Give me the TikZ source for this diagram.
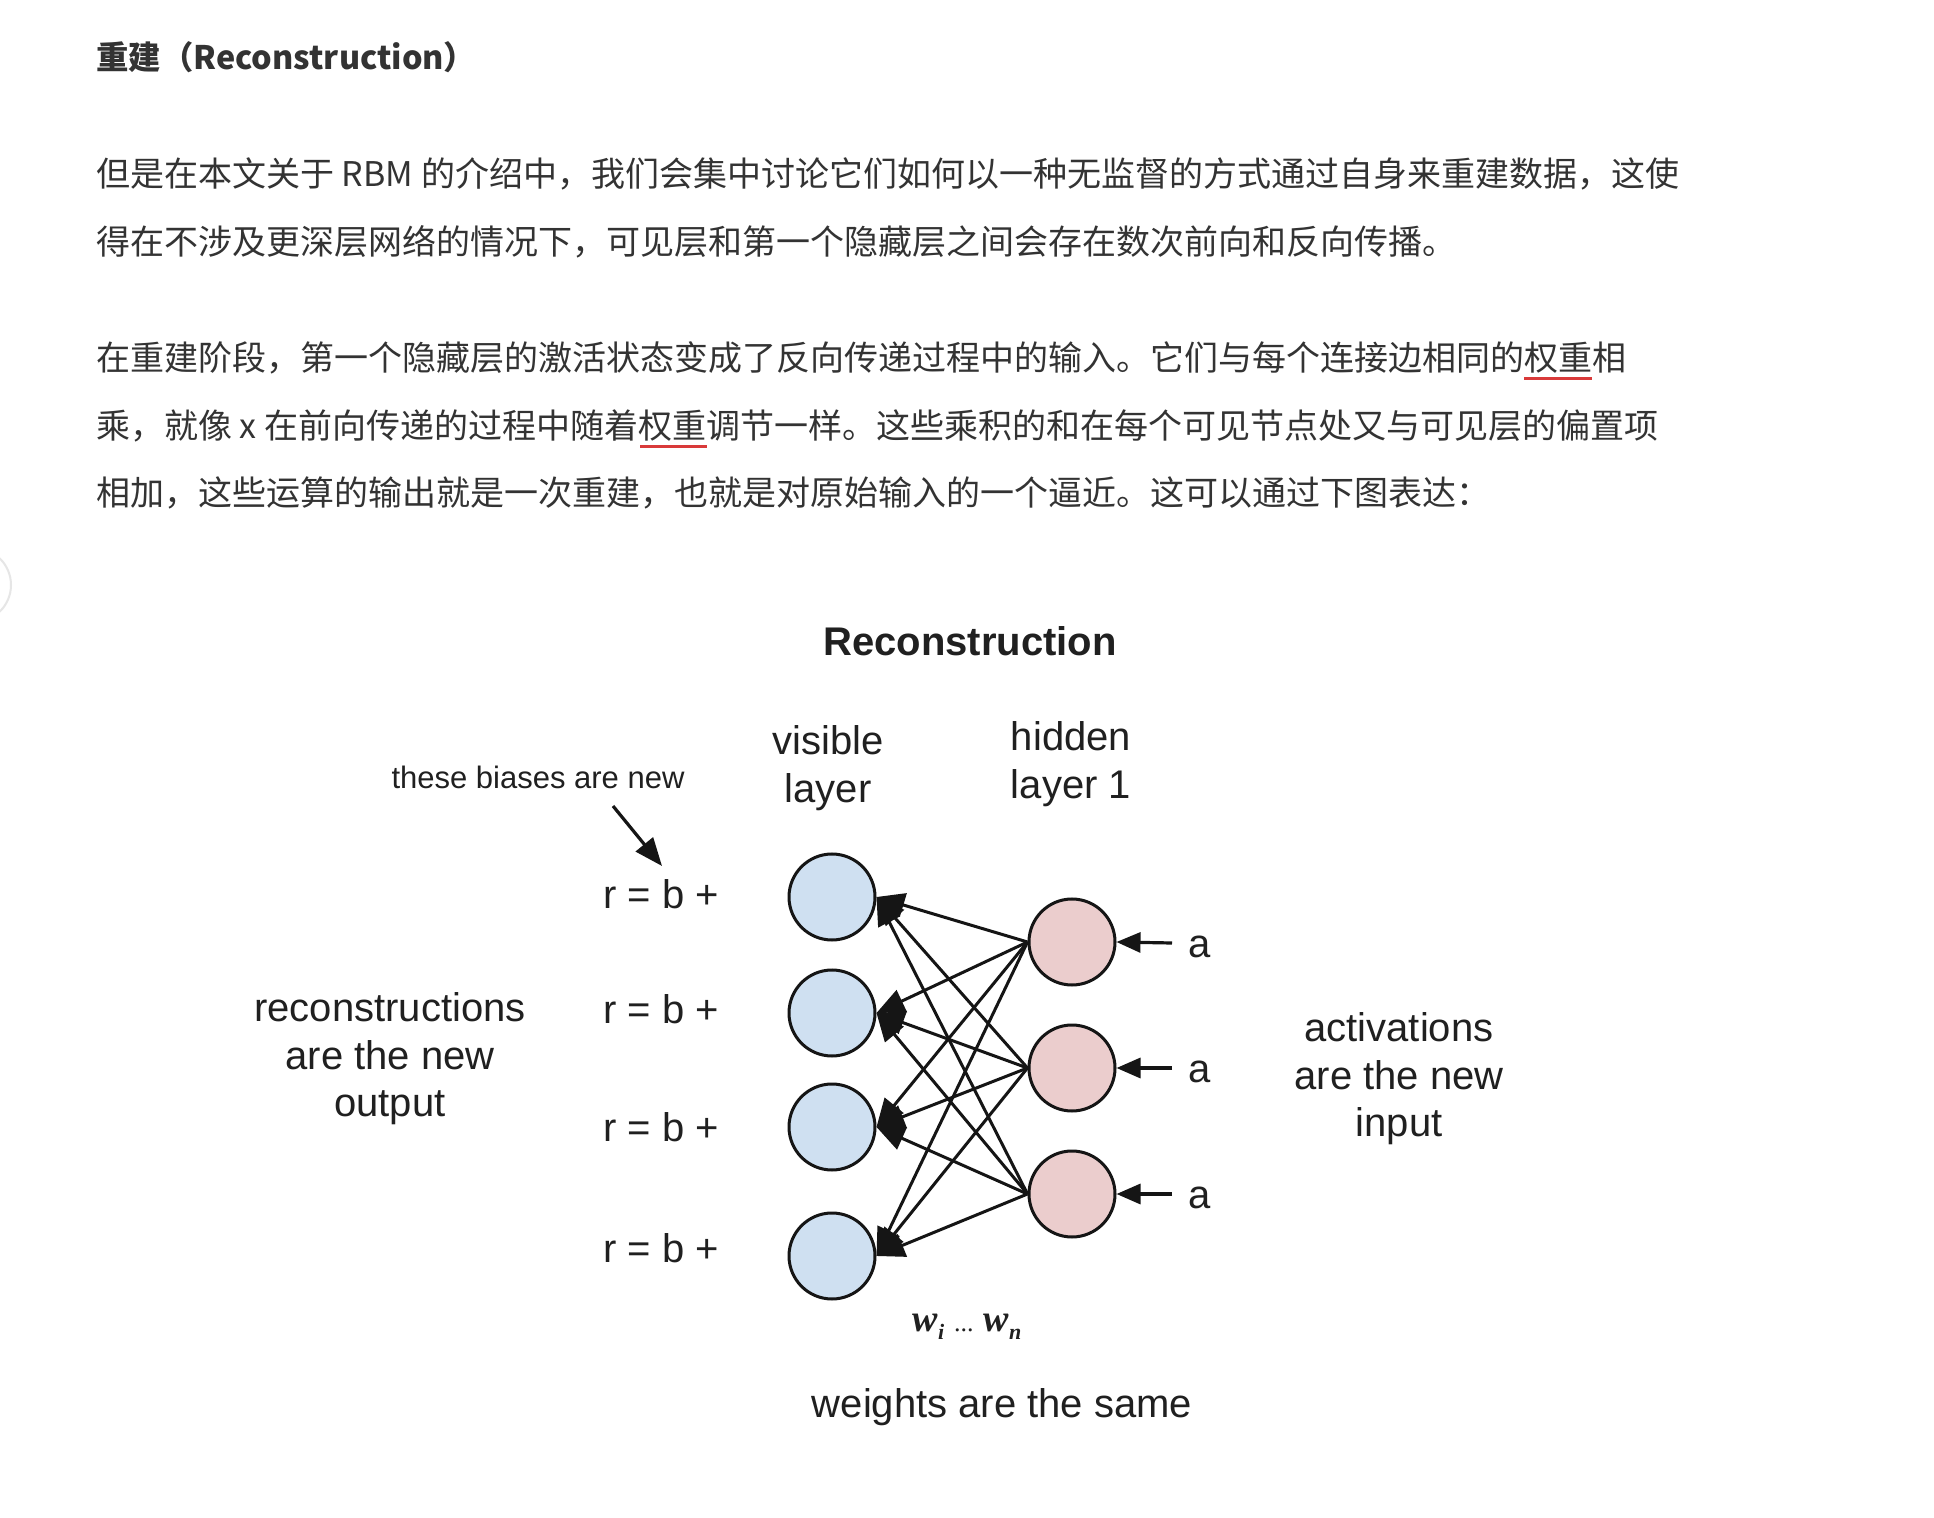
\documentclass[tikz,border=0pt]{standalone}
\usepackage{fontspec}
\setmainfont{Liberation Sans}
\newfontfamily\cjk{Noto Sans CJK SC}
\newfontfamily\wfont{Liberation Serif}
\usetikzlibrary{arrows.meta}
\definecolor{bodytext}{HTML}{333333}
\definecolor{diagtext}{HTML}{202020}
\definecolor{edgecol}{HTML}{151515}
\definecolor{visfill}{HTML}{CFE0F1}
\definecolor{hidfill}{HTML}{EBCDCD}
\definecolor{ulred}{HTML}{D93A3A}
\definecolor{uigray}{HTML}{E6E6E6}
\begin{document}
\begin{tikzpicture}[x=0.5pt,y=-0.5pt,
  bodyline/.style={anchor=base west, inner sep=0, text=bodytext, font=\cjk\fontsize{17}{20}\selectfont},
  headline/.style={anchor=base west, inner sep=0, text=bodytext, font=\cjk\bfseries\fontsize{16.2}{20}\selectfont},
  lbl/.style={inner sep=0, text=diagtext, align=center, font=\fontsize{20}{23.75}\selectfont},
  smalllbl/.style={inner sep=0, text=diagtext, font=\fontsize{15.5}{18}\selectfont},
  vis/.style={circle, draw=edgecol, line width=1.5pt, fill=visfill, minimum size=43pt, inner sep=0},
  hid/.style={circle, draw=edgecol, line width=1.5pt, fill=hidfill, minimum size=43pt, inner sep=0},
  edge/.style={draw=edgecol, line width=1.5pt, -{Triangle[length=14pt,width=12pt]}},
  actarrow/.style={draw=edgecol, line width=1.6pt, -{Triangle[length=12pt,width=10pt]}},
  ul/.style={draw=ulred, line width=1.5pt}
]
\useasboundingbox (0,0) rectangle (1934,1518);
\fill[white] (0,0) rectangle (1934,1518);
\draw[uigray, line width=1pt] (-26,585) circle[radius=37];

% article text
\node[headline] (head) at (96,70) {重建（Reconstruction）};
\node[bodyline] (l1) at (96,187) {但是在本文关于 RBM 的介绍中，我们会集中讨论它们如何以一种无监督的方式通过自身来重建数据，这使};
\node[bodyline] (l2) at (96,255) {得在不涉及更深层网络的情况下，可见层和第一个隐藏层之间会存在数次前向和反向传播。};
\node[bodyline] (l3) at (96,371) {在重建阶段，第一个隐藏层的激活状态变成了反向传递过程中的输入。它们与每个连接边相同的权重相};
\node[bodyline] (l4) at (96,439) {乘，就像 x 在前向传递的过程中随着权重调节一样。这些乘积的和在每个可见节点处又与可见层的偏置项};
\node[bodyline] (l5) at (96,506) {相加，这些运算的输出就是一次重建，也就是对原始输入的一个逼近。这可以通过下图表达：};
\draw[ul] (1524,379) -- (1592,379);
\draw[ul] (640,447) -- (707,447);

% diagram
\node[lbl, font=\bfseries\fontsize{20}{24}\selectfont] (title) at (970,641) {Reconstruction};
\node[lbl] (vislbl) at (828,768) {visible\\layer};
\node[lbl] (hidlbl) at (1071,764) {hidden\\layer 1};
\node[smalllbl] (bias) at (538,777) {these biases are new};

\node[vis] (v1) at (832,897) {};
\node[vis] (v2) at (832,1013) {};
\node[vis] (v3) at (832,1127) {};
\node[vis] (v4) at (832,1256) {};
\node[hid] (h1) at (1072,942) {};
\node[hid] (h2) at (1072,1068) {};
\node[hid] (h3) at (1072,1194) {};

\foreach \h in {h1,h2,h3}{
  \foreach \v in {v1,v2,v3,v4}{
    \draw[edge] (\h.west) -- (\v.east);
  }
}

\node[lbl] (r1) at (661,894) {r = b +};
\node[lbl] (r2) at (661,1009) {r = b +};
\node[lbl] (r3) at (661,1127) {r = b +};
\node[lbl] (r4) at (661,1248) {r = b +};

\coordinate (bstart) at (613,806);
\coordinate (bend) at (662,866);
\draw[draw=edgecol, line width=1.6pt, -{Triangle[length=14pt,width=11pt]}] (bstart) -- (bend);

\node[lbl] (a1) at (1200,947) {a};
\node[lbl] (a2) at (1200,1072) {a};
\node[lbl] (a3) at (1200,1198) {a};
\coordinate (s1) at (1172,943);
\coordinate (s2) at (1172,1068);
\coordinate (s3) at (1172,1194);
\draw[actarrow] (s1) -- (h1.east);
\draw[actarrow] (s2) -- (h2.east);
\draw[actarrow] (s3) -- (h3.east);

\node[lbl] (recon) at (390,1059) {reconstructions\\are the new\\output};
\node[lbl] (activ) at (1399,1079) {activations\\are the new\\input};
\node[inner sep=0, text=diagtext, font=\wfont\bfseries\itshape\fontsize{19}{22}\selectfont] (wts) at (967,1327)
  {w\raisebox{-0.45ex}{\fontsize{11}{11}\selectfont i}\hspace{5pt}{\mdseries\upshape\fontsize{13}{13}\selectfont...}\hspace{5pt}w\raisebox{-0.45ex}{\fontsize{11}{11}\selectfont n}};
\node[lbl] (same) at (1002,1407) {weights are the same};
\end{tikzpicture}
\end{document}
